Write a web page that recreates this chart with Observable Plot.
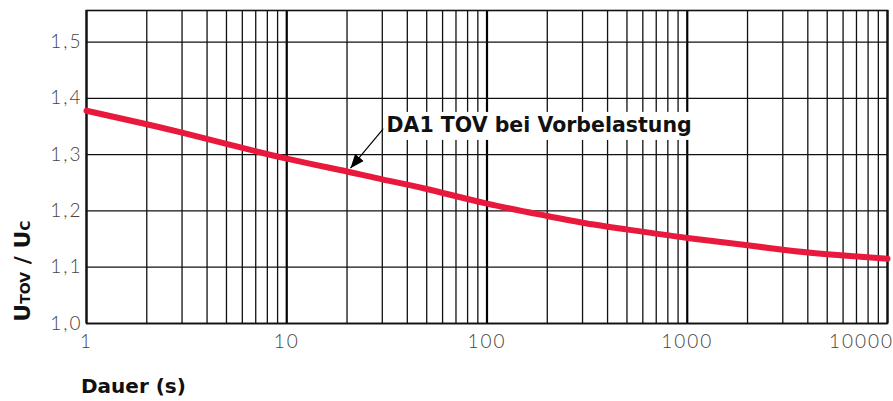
<!DOCTYPE html>
<html><head><meta charset="utf-8">
<script src="https://cdn.jsdelivr.net/npm/d3@7"></script>
<script src="https://cdn.jsdelivr.net/npm/@observablehq/plot@0.6"></script>
<style>
body{margin:0;background:#fff}
#chart{width:893px;height:401px;overflow:hidden}
</style>
</head><body><div id="chart"></div>
<script>
// ---- data ----
const duration = [1, 2, 3, 5, 10, 20, 30, 50, 100, 200, 300, 500, 1000, 2000, 3000, 5000, 10000];
const ratio    = [1.378, 1.354, 1.339, 1.319, 1.293, 1.270, 1.256, 1.239, 1.213, 1.191, 1.179, 1.167, 1.152, 1.139, 1.131, 1.123, 1.115];
const xMajorTicks = [1, 10, 100, 1000, 10000];
const xMinorTicks = [2, 3, 4, 5, 6, 7, 8, 9, 20, 30, 40, 50, 60, 70, 80, 90,
                     200, 300, 400, 500, 600, 700, 800, 900, 2000, 3000, 4000, 5000, 6000, 7000, 8000, 9000];
const yTicks = [1.0, 1.1, 1.2, 1.3, 1.4, 1.5];
const seriesLabel = "DA1 TOV bei Vorbelastung";
const labelAt = [31.5, 1.352];          // annotation text anchor (duration, ratio)
const arrowFrom = [30.4, 1.346];        // annotation arrow start
const arrowTo = [20.8, 1.276];          // annotation arrow end (on curve)
const xLabel = "Dauer (s)";

const rows = duration.map((d, i) => ({duration: d, ratio: ratio[i]}));

const plot = Plot.plot({
  width: 893, height: 401,
  marginLeft: 86, marginRight: 6, marginTop: 10, marginBottom: 78,
  x: {type: "log", domain: [1, 10000]},
  y: {domain: [1.0, 1.556]},
  style: {fontFamily: "Lato", fontSize: "19px", color: "#444", background: "#fff", overflow: "visible"},
  marks: [
    Plot.ruleX(xMinorTicks, {stroke: "#111", strokeWidth: 1.3}),
    Plot.ruleX(xMajorTicks, {stroke: "#000", strokeWidth: 2.2}),
    Plot.ruleY(yTicks, {stroke: "#111", strokeWidth: 1.3}),
    Plot.frame({stroke: "#111", strokeWidth: 1.6}),
    Plot.axisX(xMajorTicks, {tickSize: 0, tickPadding: 11, tickFormat: d => String(d), label: null, fontWeight: 300, fill: "#444", className: "xt"}),
    Plot.axisY(yTicks, {tickSize: 0, tickPadding: 4, tickFormat: d => d.toFixed(1).replace(".", ","), label: null, fontWeight: 300, fill: "#444", className: "yt"}),
    Plot.line(rows, {x: "duration", y: "ratio", curve: "natural", stroke: "#e8193c", strokeWidth: 6}),
    Plot.link([0], {x1: () => arrowFrom[0], y1: () => arrowFrom[1], x2: () => arrowTo[0], y2: () => arrowTo[1], stroke: "#000", strokeWidth: 1.2, className: "annot-arrow"}),
    Plot.text([seriesLabel], {x: () => labelAt[0], y: () => labelAt[1], text: d => d, textAnchor: "start", fontWeight: "bold", fontSize: 20.5, fill: "#111", fontFamily: "DejaVu Sans", className: "annot-text"})
  ]
});
document.getElementById("chart").appendChild(plot);

const svg = d3.select(plot);
svg.selectAll(".xt text, .yt text").attr("letter-spacing", "2px");
// last x label sits partly outside the frame, as in the original
const xts = svg.selectAll(".xt text").nodes();
d3.select(xts[xts.length - 1]).attr("dx", -26);

// white box behind annotation text (same transform as the text)
const tnode = svg.select(".annot-text text").node();
const bb = tnode.getBBox();
d3.select(tnode.parentNode).insert("rect", "text")
  .attr("transform", tnode.getAttribute("transform"))
  .attr("x", bb.x - 3).attr("y", bb.y - 1)
  .attr("width", bb.width + 6).attr("height", bb.height + 4)
  .attr("fill", "#fff");

// filled arrowhead
svg.append("defs").append("marker")
  .attr("id", "ahead").attr("viewBox", "0 -5 10 10")
  .attr("refX", 10).attr("refY", 0)
  .attr("markerWidth", 14).attr("markerHeight", 14)
  .attr("markerUnits", "userSpaceOnUse")
  .attr("orient", "auto")
  .append("path").attr("d", "M0,-4L10,0L0,4Z").attr("fill", "#000");
svg.selectAll(".annot-arrow path, .annot-arrow line").attr("marker-end", "url(#ahead)");

// y axis title with subscripts
const yt = svg.append("text")
  .attr("transform", "translate(30,271) rotate(-90)")
  .attr("text-anchor", "middle")
  .attr("font-family", "DejaVu Sans").attr("font-weight", "bold")
  .attr("font-size", 22).attr("fill", "#111");
yt.append("tspan").text("U");
yt.append("tspan").attr("font-size", 14).text("TOV");
yt.append("tspan").text(" / U");
yt.append("tspan").attr("font-size", 14).text("C");

// x axis title
svg.append("text")
  .attr("x", 81).attr("y", 393)
  .attr("text-anchor", "start")
  .attr("font-family", "DejaVu Sans").attr("font-weight", "bold")
  .attr("font-size", 20).attr("fill", "#111")
  .text(xLabel);
</script>
</body></html>
